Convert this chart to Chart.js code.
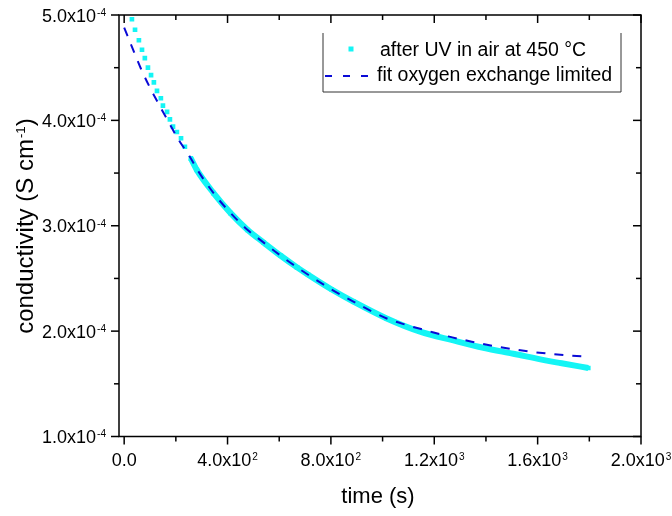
<!DOCTYPE html>
<html>
<head>
<meta charset="utf-8">
<script src="https://cdn.jsdelivr.net/npm/chart.js"></script>
<style>
  html, body { margin: 0; padding: 0; background: #fff; }
</style>
</head>
<body>
<canvas id="myChart" width="672" height="516"></canvas>
<script>
// measured data (time in s, conductivity in S/cm)
const cyanTime = [30, 42, 57, 69, 80, 92, 104, 115, 127, 142, 150, 166, 177, 189, 204, 220, 235, 258,
  281, 346, 412, 478, 540, 606, 669, 712, 803, 887, 1016, 1145, 1274, 1390, 1506, 1635, 1693, 1796];
const cyanCond = [4.96e-4, 4.86e-4, 4.76e-4, 4.67e-4, 4.59e-4, 4.50e-4, 4.43e-4, 4.36e-4, 4.28e-4, 4.21e-4,
  4.14e-4, 4.08e-4, 4.01e-4, 3.94e-4, 3.89e-4, 3.83e-4, 3.75e-4, 3.64e-4,
  3.53e-4, 3.31e-4, 3.12e-4, 2.96e-4, 2.84e-4, 2.715e-4, 2.605e-4, 2.535e-4, 2.395e-4, 2.28e-4, 2.12e-4,
  1.995e-4, 1.912e-4, 1.842e-4, 1.785e-4, 1.72e-4, 1.695e-4, 1.65e-4];

// fit curve
const fitTime = [0, 38, 65, 100, 137, 173, 212, 253, 281, 346, 412, 478, 540, 606, 669, 712, 803, 887,
  1016, 1093, 1171, 1254, 1345, 1423, 1501, 1578, 1656, 1733, 1790];
const fitCond = [4.88e-4, 4.65e-4, 4.49e-4, 4.31e-4, 4.14e-4, 3.98e-4, 3.81e-4, 3.66e-4, 3.54e-4, 3.31e-4,
  3.12e-4, 2.96e-4, 2.84e-4, 2.715e-4, 2.605e-4, 2.535e-4, 2.395e-4, 2.28e-4,
  2.12e-4, 2.058e-4, 2.005e-4, 1.95e-4, 1.90e-4, 1.862e-4, 1.83e-4, 1.803e-4, 1.783e-4, 1.767e-4, 1.757e-4];

const seriesNames = ['after UV in air at 450 °C', 'fit oxygen exchange limited'];

// axes
const xTicks = [0, 400, 800, 1200, 1600, 2000];
const xTickLabels = ['0.0', '4.0x10^2', '8.0x10^2', '1.2x10^3', '1.6x10^3', '2.0x10^3'];
const xMinorTicks = [200, 600, 1000, 1400, 1800];
const yTicks = [1e-4, 2e-4, 3e-4, 4e-4, 5e-4];
const yTickLabels = ['1.0x10^-4', '2.0x10^-4', '3.0x10^-4', '4.0x10^-4', '5.0x10^-4'];
const yMinorTicks = [1.5e-4, 2.5e-4, 3.5e-4, 4.5e-4];
const xTitle = 'time (s)';
const yTitle = 'conductivity (S cm^-1^)';

const CYAN = '#14f5f5';
const BLUE = '#0a0ad6';
const FONT = '"Liberation Sans", Arial, sans-serif';

// text with ^superscript^ parts, y is the baseline
function drawRich(ctx, text, x, y, size, align) {
  const parts = text.split('^');
  const supSize = size * 0.56;
  let widths = parts.map((p, i) => {
    ctx.font = (i % 2 ? supSize : size) + 'px ' + FONT;
    return ctx.measureText(p).width + (i % 2 ? 1 : 0);
  });
  let total = widths.reduce((a, b) => a + b, 0);
  let cx = align == 'right' ? x - total : align == 'center' ? x - total / 2 : x;
  ctx.textAlign = 'left';
  ctx.textBaseline = 'alphabetic';
  parts.forEach((p, i) => {
    if (i % 2) {
      ctx.font = supSize + 'px ' + FONT;
      ctx.fillText(p, cx + 1, y - size * 0.716 + supSize * 0.716);
    } else {
      ctx.font = size + 'px ' + FONT;
      ctx.fillText(p, cx, y);
    }
    cx += widths[i];
  });
}

const originAxes = {
  id: 'originAxes',
  afterDraw(chart) {
    const { ctx, chartArea: a, scales: { x, y } } = chart;
    ctx.save();
    ctx.strokeStyle = '#000';
    ctx.fillStyle = '#000';
    ctx.lineWidth = 1.5;
    ctx.strokeRect(a.left, a.top, a.right - a.left, a.bottom - a.top);

    const line = (x1, y1, x2, y2) => {
      ctx.beginPath();
      ctx.moveTo(x1, y1);
      ctx.lineTo(x2, y2);
      ctx.stroke();
    };
    const major = 8, minor = 5;
    // bottom ticks outward, top ticks inward
    xTicks.forEach((v) => {
      let px = x.getPixelForValue(v);
      line(px, a.bottom, px, a.bottom + major);
      line(px, a.top, px, a.top + major);
    });
    xMinorTicks.forEach((v) => {
      let px = x.getPixelForValue(v);
      line(px, a.bottom, px, a.bottom + minor);
      line(px, a.top, px, a.top + minor);
    });
    // left ticks outward, right ticks inward
    yTicks.forEach((v) => {
      let py = y.getPixelForValue(v);
      line(a.left - major, py, a.left, py);
      line(a.right - major, py, a.right, py);
    });
    yMinorTicks.forEach((v) => {
      let py = y.getPixelForValue(v);
      line(a.left - minor, py, a.left, py);
      line(a.right - minor, py, a.right, py);
    });

    // tick labels
    xTicks.forEach((v, i) => {
      drawRich(ctx, xTickLabels[i], x.getPixelForValue(v), 466, 18, 'center');
    });
    yTicks.forEach((v, i) => {
      drawRich(ctx, yTickLabels[i], 106, y.getPixelForValue(v) + 6.5, 18, 'right');
    });

    // axis titles
    drawRich(ctx, xTitle, 378, 503, 22, 'center');
    ctx.save();
    ctx.translate(33, 226);
    ctx.rotate(-Math.PI / 2);
    drawRich(ctx, yTitle, 0, 0, 24, 'center');
    ctx.restore();

    // legend
    ctx.lineWidth = 1;
    ctx.strokeStyle = '#333';
    ctx.beginPath();
    ctx.moveTo(323, 33);
    ctx.lineTo(323, 92);
    ctx.lineTo(621, 92);
    ctx.lineTo(621, 33);
    ctx.stroke();
    ctx.fillStyle = CYAN;
    ctx.fillRect(348.5, 46.5, 5, 5);
    ctx.strokeStyle = BLUE;
    ctx.lineWidth = 2;
    ctx.setLineDash([7, 11]);
    line(325, 76, 373, 76);
    ctx.setLineDash([]);
    ctx.fillStyle = '#000';
    drawRich(ctx, seriesNames[0], 380, 56, 19.5, 'left');
    drawRich(ctx, seriesNames[1], 377, 81, 19.5, 'left');
    ctx.restore();
  },
};

const ctx = document.getElementById('myChart');
new Chart(ctx, {
  type: 'scatter',
  data: {
    datasets: [
      {
        label: seriesNames[1],
        data: fitTime.map((t, i) => ({ x: t, y: fitCond[i] })),
        showLine: true,
        borderColor: BLUE,
        borderWidth: 2,
        borderDash: [9, 9],
        pointRadius: 0,
        cubicInterpolationMode: 'monotone',
        order: 0,
        clip: 0,
      },
      {
        label: seriesNames[0],
        data: cyanTime.map((t, i) => ({ x: t, y: cyanCond[i] })),
        showLine: true,
        borderColor: CYAN,
        backgroundColor: CYAN,
        borderWidth: 6,
        pointStyle: 'rect',
        pointRadius: 3.3,
        pointBorderWidth: 0,
        cubicInterpolationMode: 'monotone',
        // the first points are far apart, so only the markers show there
        segment: {
          borderColor: (c) => (c.p1.parsed.x <= 258 ? 'rgba(0,0,0,0)' : undefined),
        },
        order: 1,
        clip: 0,
      },
    ],
  },
  options: {
    responsive: false,
    animation: false,
    layout: { padding: { left: 119, right: 31, top: 15, bottom: 79.5 } },
    plugins: {
      legend: { display: false },
      tooltip: { enabled: false },
    },
    scales: {
      x: { type: 'linear', min: -20, max: 2000, display: false },
      y: { type: 'linear', min: 1e-4, max: 5e-4, display: false },
    },
  },
  plugins: [originAxes],
});
</script>
</body>
</html>
